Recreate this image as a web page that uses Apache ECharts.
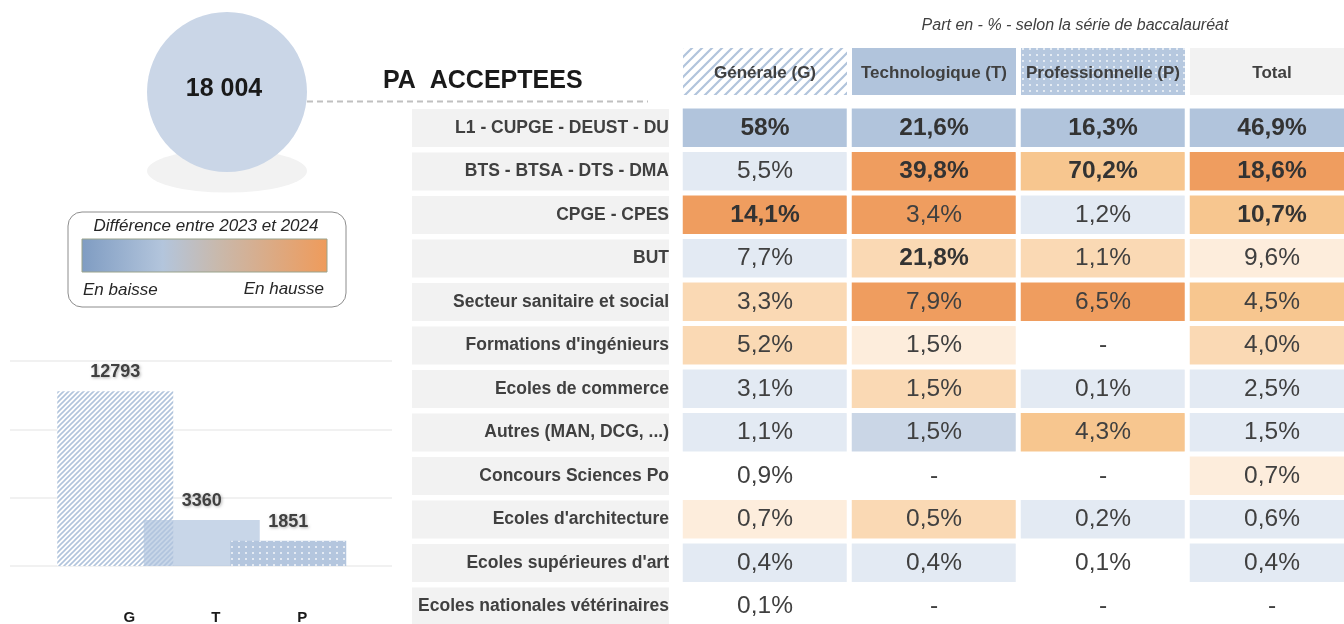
<!DOCTYPE html>
<html>
<head>
<meta charset="utf-8">
<title>PA acceptees</title>
<script src="https://cdn.jsdelivr.net/npm/echarts@6/dist/echarts.min.js"></script>
<style>
  html, body { margin: 0; padding: 0; background: #fff; }
  #main { width: 1344px; height: 624px; }
</style>
</head>
<body>
<div id="main"></div>
<script>
// formations (lignes du tableau)
var rows = ['L1 - CUPGE - DEUST - DU', 'BTS - BTSA - DTS - DMA', 'CPGE - CPES', 'BUT',
  'Secteur sanitaire et social', "Formations d'ingénieurs", 'Ecoles de commerce',
  'Autres (MAN, DCG, ...)', 'Concours Sciences Po', "Ecoles d'architecture",
  "Ecoles supérieures d'art", 'Ecoles nationales vétérinaires'];
var columns = ['Générale (G)', 'Technologique (T)', 'Professionnelle (P)', 'Total'];

// part en % (null = "-")
var shareG = [58, 5.5, 14.1, 7.7, 3.3, 5.2, 3.1, 1.1, 0.9, 0.7, 0.4, 0.1];
var shareT = [21.6, 39.8, 3.4, 21.8, 7.9, 1.5, 1.5, 1.5, null, 0.5, 0.4, null];
var shareP = [16.3, 70.2, 1.2, 1.1, 6.5, null, 0.1, 4.3, null, 0.2, 0.1, null];
var shareTot = [46.9, 18.6, 10.7, 9.6, 4.5, 4.0, 2.5, 1.5, 0.7, 0.6, 0.4, null];

// difference 2023/2024 : -3 forte baisse ... 0 neutre ... 4 forte hausse
var toneG = [-3, -1, 4, -1, 2, 2, -1, -1, 0, 1, -1, 0];
var toneT = [-3, 4, 4, 2, 4, 1, 2, -2, 0, 2, -1, 0];
var toneP = [-3, 3, -1, 2, 4, 0, -1, 3, 0, -1, 0, 0];
var toneTot = [-3, 4, 3, 1, 3, 2, -1, -1, 1, -1, -1, 0];

// lignes en gras
var boldG = [0, 2];
var boldT = [0, 1, 3];
var boldP = [0, 1];
var boldTot = [0, 1, 2];

// propositions acceptees par serie de bac
var bacSeries = ['G', 'T', 'P'];
var accepted = [12793, 3360, 1851];

var FONT = "'Liberation Sans', Arial, sans-serif";
var toneColors = {'-3': '#B1C4DC', '-2': '#CAD6E6', '-1': '#E3EAF3', '0': '#FFFFFF',
  '1': '#FDEDDC', '2': '#FAD9B4', '3': '#F7C68F', '4': '#EF9D5F'};

function fmt(v) {
  if (v === null) return '-';
  if (v % 1 === 0 && v >= 10) return v + '%';
  return v.toFixed(1).replace('.', ',') + '%';
}

var shares = [shareG, shareT, shareP, shareTot];
var tones = [toneG, toneT, toneP, toneTot];
var bolds = [boldG, boldT, boldP, boldTot];
var cells = [];
shares.forEach(function (col, c) {
  col.forEach(function (v, r) {
    cells.push([c, r, tones[c][r], fmt(v), bolds[c].indexOf(r) >= 0 ? 1 : 0]);
  });
});

var total = accepted.reduce(function (a, b) { return a + b; }, 0);
var totalText = String(total).replace(/\B(?=(\d{3})+(?!\d))/g, ' ');

// motif hachure "/" dessine sur un petit canvas
function stripeTile(size, lineW, color) {
  var cv = document.createElement('canvas');
  cv.width = size; cv.height = size;
  var ctx = cv.getContext('2d');
  ctx.fillStyle = '#FFFFFF';
  ctx.fillRect(0, 0, size, size);
  ctx.strokeStyle = color;
  ctx.lineWidth = lineW;
  ctx.beginPath();
  [-size, 0, size].forEach(function (o) {
    ctx.moveTo(o - 1, size + 1);
    ctx.lineTo(o + size + 1, -1);
  });
  ctx.stroke();
  return {image: cv, repeat: 'repeat'};
}
var dots = {symbol: 'circle', symbolSize: 1, color: 'rgba(255,255,255,0.85)',
  dashArrayX: [[1.6, 4.2]], dashArrayY: [1.6, 3.4]};

var myChart = echarts.init(document.getElementById('main'));

var option = {
  animation: false,
  textStyle: {fontFamily: FONT},
  grid: [
    // lignes de fond du petit histogramme
    {left: 10, top: 361, width: 382, height: 205, outerBoundsMode: 'none'},
    // histogramme
    {left: 72, top: 361, width: 259.5, height: 205, outerBoundsMode: 'none'},
    // en-tete du tableau
    {left: 680.5, top: 48, width: 676, height: 47, outerBoundsMode: 'none'},
    // tableau
    {left: 680.5, top: 106.25, width: 676, height: 522, outerBoundsMode: 'none'}
  ],
  xAxis: [
    {gridIndex: 0, type: 'value', show: false, min: 0, max: 1},
    {gridIndex: 1, type: 'category', data: bacSeries,
      axisLine: {show: false}, axisTick: {show: false},
      axisLabel: {margin: 44, fontSize: 15, fontWeight: 'bold', color: '#1a1a1a',
        padding: [0, 0, 0, 28]}},
    {gridIndex: 2, type: 'category', data: columns, show: false},
    {gridIndex: 3, type: 'category', data: columns, show: false}
  ],
  yAxis: [
    {gridIndex: 0, type: 'value', min: 0, max: 15000, interval: 5000,
      axisLine: {show: false}, axisTick: {show: false}, axisLabel: {show: false},
      splitLine: {lineStyle: {color: '#EDEDED', width: 1.5}}},
    {gridIndex: 1, type: 'value', min: 0, max: 15000, show: false},
    {gridIndex: 2, type: 'value', min: 0, max: 1, show: false},
    {gridIndex: 3, type: 'category', data: rows, inverse: true,
      axisLine: {show: false}, axisTick: {show: false}, splitLine: {show: false},
      axisLabel: {margin: 11.5, align: 'right', width: 257, height: 38, lineHeight: 38,
        backgroundColor: '#F2F2F2', fontSize: 17.5, fontWeight: 'bold', color: '#404040',
        interval: 0}}
  ],
  visualMap: {
    show: false, type: 'piecewise', seriesIndex: 2, dimension: 2,
    pieces: Object.keys(toneColors).map(function (k) {
      return {value: Number(k), color: toneColors[k]};
    })
  },
  series: [
    {
      type: 'bar', xAxisIndex: 1, yAxisIndex: 1, barWidth: 116, clip: false,
      data: accepted.map(function (v, i) {
        var st = [
          {color: stripeTile(5, 1.6, '#B1C4DC')},
          {color: 'rgba(176,196,222,0.7)'},
          {color: '#B4C6DE', decal: dots}
        ][i];
        return {value: v, itemStyle: st};
      }),
      label: {show: true, position: 'top', distance: 10, fontSize: 18, fontWeight: 'bold',
        color: '#404040', textShadowColor: 'rgba(0,0,0,0.3)', textShadowBlur: 3,
        textShadowOffsetX: 1, textShadowOffsetY: 1},
      emphasis: {disabled: true}
    },
    {
      type: 'bar', xAxisIndex: 2, yAxisIndex: 2, barWidth: 164,
      data: columns.map(function (c, i) {
        var st = [
          {color: stripeTile(10, 2.2, '#B1C4DC')},
          {color: '#B1C4DC'},
          {color: '#B6C8DF', decal: dots},
          {color: '#F2F2F2'}
        ][i];
        return {value: 1, itemStyle: st};
      }),
      label: {show: true, position: 'inside', fontSize: 17, fontWeight: 'bold', color: '#404040',
        offset: [0, 2], formatter: function (p) { return p.name; }},
      emphasis: {disabled: true}
    },
    {
      type: 'heatmap', xAxisIndex: 3, yAxisIndex: 3,
      data: cells,
      itemStyle: {borderColor: '#FFFFFF', borderWidth: 5},
      label: {
        show: true,
        formatter: function (p) { return '{' + (p.data[4] ? 'b' : 'n') + '|' + p.data[3] + '}'; },
        rich: {
          b: {fontSize: 24.5, fontWeight: 'bold', color: '#333333', fontFamily: FONT},
          n: {fontSize: 24.5, color: '#404040', fontFamily: FONT}
        }
      },
      emphasis: {disabled: true}
    }
  ],
  graphic: [
    {type: 'circle', x: 227, y: 171, scaleY: 0.27, shape: {cx: 0, cy: 0, r: 80},
      style: {fill: '#F2F2F2'}, silent: true},
    {type: 'circle', shape: {cx: 227, cy: 92, r: 80}, style: {fill: '#CAD6E7'}, silent: true},
    {type: 'text', x: 224, y: 89, style: {text: totalText, font: 'bold 25px ' + FONT,
      fill: '#1a1a1a', textAlign: 'center', textVerticalAlign: 'middle'}},
    {type: 'line', shape: {x1: 307, y1: 101.5, x2: 648, y2: 101.5},
      style: {stroke: '#C0C0C0', lineWidth: 2, lineDash: [6, 4]}},
    {type: 'text', x: 383, y: 81, style: {text: 'PA  ACCEPTEES', font: 'bold 25px ' + FONT,
      fill: '#1a1a1a', textAlign: 'left', textVerticalAlign: 'middle'}},
    {type: 'text', x: 1075, y: 26, style: {text: 'Part en - % - selon la série de baccalauréat',
      font: 'italic 16px ' + FONT, fill: '#404040', textAlign: 'center', textVerticalAlign: 'middle'}},
    {type: 'rect', shape: {x: 68, y: 212, width: 278, height: 95, r: 14},
      style: {fill: '#FFFFFF', stroke: '#8C8C8C', lineWidth: 1}},
    {type: 'text', x: 206, y: 226, style: {text: 'Différence entre 2023 et 2024',
      font: 'italic 17px ' + FONT, fill: '#262626', textAlign: 'center', textVerticalAlign: 'middle'}},
    {type: 'rect', shape: {x: 82, y: 239, width: 245, height: 33},
      style: {stroke: '#9AA38C', lineWidth: 1, fill: {type: 'linear', x: 0, y: 0, x2: 1, y2: 0,
        colorStops: [{offset: 0, color: '#7F9CC2'}, {offset: 0.33, color: '#B3C5DC'},
          {offset: 0.55, color: '#C8B9AD'}, {offset: 1, color: '#EF9B5B'}]}}},
    {type: 'text', x: 83, y: 290, style: {text: 'En baisse', font: 'italic 17px ' + FONT,
      fill: '#262626', textAlign: 'left', textVerticalAlign: 'middle'}},
    {type: 'text', x: 324, y: 289, style: {text: 'En hausse', font: 'italic 17px ' + FONT,
      fill: '#262626', textAlign: 'right', textVerticalAlign: 'middle'}}
  ]
};

myChart.setOption(option);
</script>
</body>
</html>
